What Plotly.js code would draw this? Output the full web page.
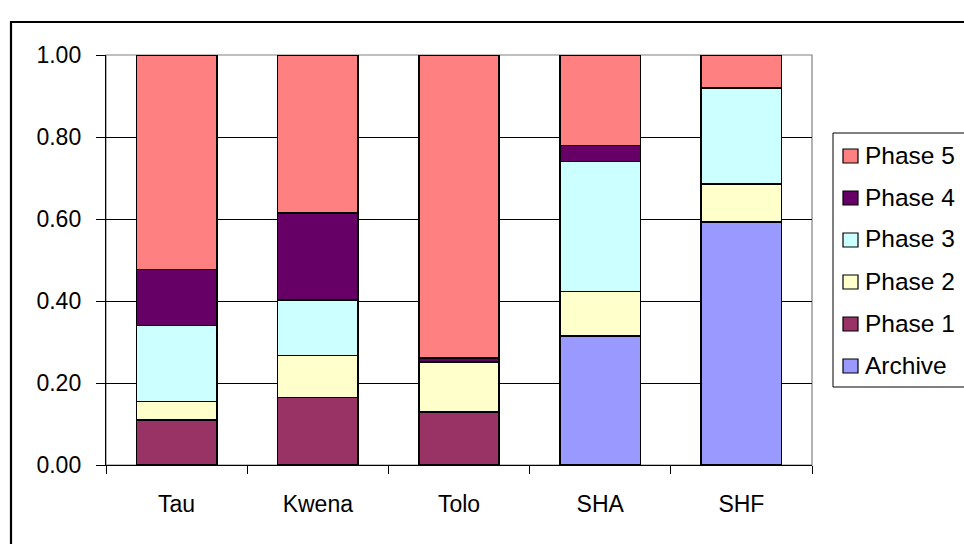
<!DOCTYPE html>
<html>
<head>
<meta charset="utf-8">
<script src="https://cdn.plot.ly/plotly-3.0.1.min.js"></script>
<style>
  html, body { margin: 0; padding: 0; background: #ffffff; }
  #chart { width: 964px; height: 544px; }
</style>
</head>
<body>
<div id="chart"></div>
<script>
// Sites along the x axis
const sites = ["Tau", "Kwena", "Tolo", "SHA", "SHF"];

// Proportion of each site's assemblage by phase (stacked bottom to top)
const archive = [0, 0, 0, 0.315, 0.593];
const phase1  = [0.110, 0.165, 0.130, 0, 0];
const phase2  = [0.045, 0.102, 0.121, 0.108, 0.092];
const phase3  = [0.185, 0.135, 0, 0.317, 0.235];
const phase4  = [0.137, 0.212, 0.010, 0.039, 0];
const phase5  = [0.523, 0.386, 0.739, 0.221, 0.080];

const seriesNames  = ["Archive", "Phase 1", "Phase 2", "Phase 3", "Phase 4", "Phase 5"];
const seriesValues = [archive, phase1, phase2, phase3, phase4, phase5];
const seriesColors = ["#9999FF", "#993366", "#FFFFCC", "#CCFFFF", "#660066", "#FF8080"];

const FONT = "Liberation Sans, Arial, Helvetica, sans-serif";
const W = 964, H = 544;
const M = { l: 106, r: 152, t: 55, b: 79 };
const plotW = W - M.l - M.r, plotH = H - M.t - M.b;
// pixel -> paper coordinate helpers for the decorations
const px = x => (x - M.l) / plotW;
const py = y => (H - M.b - y) / plotH;

const traces = seriesNames.map((name, i) => ({
  type: "bar",
  name: name,
  x: sites,
  y: seriesValues[i],
  marker: { color: seriesColors[i], line: { color: "#000000", width: 1.7 } },
  hoverinfo: "x+y+name",
  showlegend: false
}));

const shapes = [];
const annotations = [];

// outer chart frame
shapes.push({
  type: "rect", xref: "paper", yref: "paper",
  x0: px(11), x1: px(1100), y0: py(700), y1: py(22),
  line: { color: "#000000", width: 2.2 }, fillcolor: "rgba(0,0,0,0)", layer: "below"
});
// plot-area border (grey), between gridlines and bars
shapes.push({
  type: "rect", xref: "paper", yref: "paper",
  x0: 0, x1: 1, y0: 0, y1: 1,
  line: { color: "#808080", width: 1.2 }, fillcolor: "rgba(0,0,0,0)", layer: "between"
});
// legend frame: swatches and labels, newest phase on top
shapes.push({
  type: "rect", xref: "paper", yref: "paper",
  x0: px(833), x1: px(1100), y0: py(387), y1: py(133),
  line: { color: "#000000", width: 1 }, fillcolor: "#ffffff", layer: "above"
});
const legendTop = 155, legendStep = 42;
for (let k = 0; k < seriesNames.length; k++) {
  const i = seriesNames.length - 1 - k;
  const cy = legendTop + k * legendStep;
  shapes.push({
    type: "rect", xref: "paper", yref: "paper",
    x0: px(843), x1: px(858), y0: py(cy + 8), y1: py(cy - 6),
    line: { color: "#000000", width: 1.2 }, fillcolor: seriesColors[i], layer: "above"
  });
  annotations.push({
    xref: "paper", yref: "paper",
    x: px(863), y: py(cy), xanchor: "left", yanchor: "middle",
    text: seriesNames[i], showarrow: false,
    font: { family: FONT, size: 24.5, color: "#000000" }
  });
}

const layout = {
  width: W, height: H,
  margin: M,
  paper_bgcolor: "#ffffff",
  plot_bgcolor: "#ffffff",
  barmode: "stack",
  bargap: 0.43,
  showlegend: false,
  font: { family: FONT, size: 23, color: "#000000" },
  xaxis: {
    type: "category",
    showline: true, linecolor: "#000000", linewidth: 1.2,
    showgrid: false,
    ticks: "outside", tickson: "boundaries", ticklen: 8, tickwidth: 1, tickcolor: "#000000",
    tickfont: { family: FONT, size: 23, color: "#000000" },
    ticklabelstandoff: 18,
    fixedrange: true
  },
  yaxis: {
    range: [0, 1],
    dtick: 0.2, tick0: 0,
    tickformat: ".2f",
    showline: true, linecolor: "#000000", linewidth: 1.2,
    showgrid: true, gridcolor: "#000000", gridwidth: 1,
    zeroline: false,
    ticks: "outside", ticklen: 9, tickwidth: 1, tickcolor: "#000000",
    tickfont: { family: FONT, size: 23, color: "#000000" },
    ticklabelstandoff: 10,
    fixedrange: true
  },
  shapes: shapes,
  annotations: annotations
};

Plotly.newPlot("chart", traces, layout, { displayModeBar: false, staticPlot: true });
</script>
</body>
</html>
